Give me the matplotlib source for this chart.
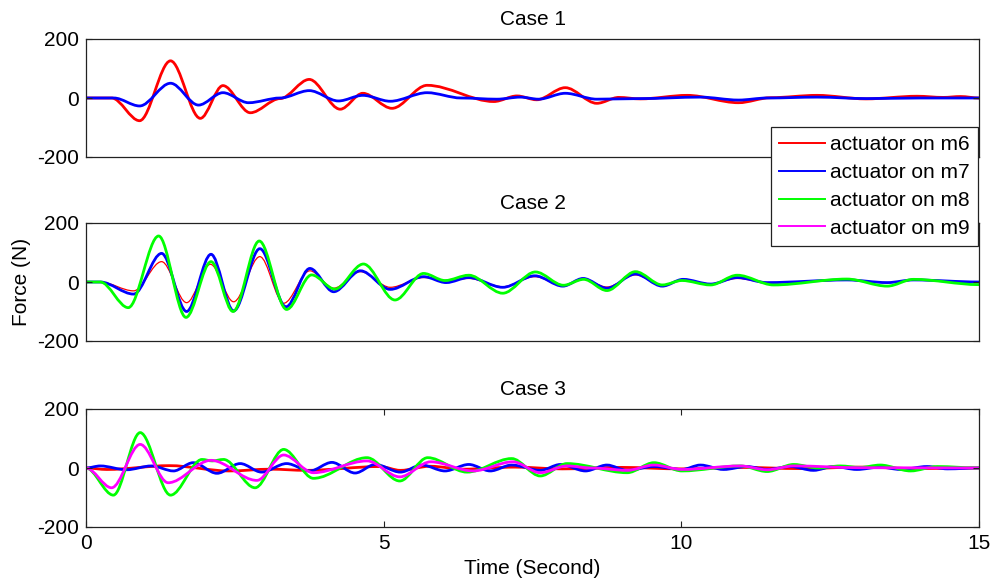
import matplotlib
matplotlib.use("Agg")
import matplotlib.pyplot as plt
from matplotlib.path import Path
from matplotlib.patches import PathPatch
from matplotlib.lines import Line2D

plt.rcParams['font.family'] = ['Liberation Sans', 'DejaVu Sans']
plt.rcParams['axes.unicode_minus'] = False

# values: times (s) and forces (N) at the turning points

# case 1
c1_red_t = [0, 0.43, 0.90, 1.42, 1.92, 2.30, 2.76, 3.26, 3.75, 4.27, 4.65, 5.14, 5.73, 6.85, 7.24, 7.57,
            8.05, 8.58, 8.95, 9.31, 10.1, 10.96, 11.5, 12.28, 13.1, 13.96, 14.4, 14.69, 15.0]
c1_red_v = [0, 0, -77, 126, -69, 42, -50, -2, 63, -38, 16, -35, 43, -12, 7, -6,
            35, -18, 2, -3, 9, -16, 1, 9, -3, 6, 2, 5, 0]
c1_blue_t = [0, 0.47, 0.90, 1.42, 1.89, 2.30, 2.73, 3.26, 3.75, 4.24, 4.65, 5.11, 5.73, 6.30, 6.90,
             7.30, 7.60, 8.05, 8.58, 9.31, 10.32, 10.96, 11.44, 12.28, 13.12, 14.0, 15.0]
c1_blue_v = [0, 0, -27, 50, -24, 18, -16, 0, 25, -10, 9, -11, 18, 0, -4,
             3, -4, 16, -4, -2, 3, -7, 0, 3, -2, 0, 0]

# case 2
c2_red_t = [0, 0.24, 0.80, 1.27, 1.69, 2.09, 2.48, 2.92, 3.32, 3.76, 4.16, 4.61, 5.11, 5.67, 6.05, 6.43,
            7.00, 7.54, 8.01, 8.35, 8.75, 9.23, 9.68, 10.03, 10.49, 10.94, 11.44, 12.78, 13.46, 13.90, 15.0]
c2_red_v = [0, 0, -30, 69, -70, 60, -67, 86, -72, 38, -21, 35, -18, 15, 5, 12,
            -16, 18, -12, 10, -17, 24, -12, 8, -6, 12, -2, 6, -2, 6, 0]
c2_blue_t = [0, 0.24, 0.80, 1.27, 1.69, 2.10, 2.48, 2.92, 3.36, 3.76, 4.16, 4.61, 5.11, 5.67, 6.05, 6.43,
             7.00, 7.54, 8.01, 8.35, 8.75, 9.23, 9.68, 10.03, 10.49, 10.94, 11.44, 12.78, 13.46, 13.90, 15.0]
c2_blue_v = [0, 0, -41, 97, -100, 94, -98, 113, -84, 46, -33, 38, -25, 18, -2, 15,
             -18, 21, -14, 12, -21, 27, -14, 9, -7, 15, -2, 7, -2, 7, 0]
c2_green_t = [0, 0.24, 0.71, 1.22, 1.68, 2.10, 2.47, 2.91, 3.37, 3.79, 4.18, 4.66, 5.19, 5.67, 6.03, 6.43,
              7.00, 7.55, 8.02, 8.36, 8.75, 9.23, 9.68, 10.01, 10.49, 10.94, 11.55, 12.78, 13.46, 13.90, 15.0]
c2_green_v = [0, 0, -87, 156, -120, 69, -100, 139, -93, 24, -24, 61, -61, 29, 5, 23,
              -38, 34, -11, 9, -29, 35, -10, 5, -10, 23, -10, 10, -14, 9, -9]

# case 3
c3_red_t = [0, 0.35, 1.4, 2.4, 3.1, 3.7, 4.94, 5.28, 5.78, 6.34, 7.2, 8.0, 9.0, 10.0, 11.0, 12.0, 13.0, 14.0, 15.0]
c3_red_v = [0, -5, 8, -10, -4, -8, 5, -8, 6, -4, 3, -3, 2, -3, 2, -2, 3, -2, 0]
c3_blue_t = [0, 0.24, 0.68, 1.10, 1.47, 1.80, 2.20, 2.59, 2.95, 3.37, 3.76, 4.13, 4.52, 4.86, 5.28, 5.64,
             6.03, 6.43, 6.79, 7.15, 7.63, 7.97, 8.39, 8.75, 9.09, 9.54, 10.01, 10.32, 10.71, 11.10, 11.44,
             11.83, 12.22, 12.56, 12.95, 13.34, 13.68, 14.13, 14.47, 15.0]
c3_blue_v = [0, 7, -6, 7, -10, 18, -18, 15, -14, 15, -10, 19, -17, 12, -14, 10,
             -10, 12, -10, 10, -8, 12, -10, 10, -8, 5, -5, 10, -5, 5, -5,
             5, -8, 5, -5, 3, -5, 5, -3, 0]
c3_green_t = [0, 0.46, 0.91, 1.42, 1.95, 2.12, 2.31, 2.84, 3.32, 3.82, 4.72, 5.27, 5.74, 6.40, 7.15, 7.63,
              8.08, 9.09, 9.54, 10.01, 10.99, 11.44, 11.89, 12.3, 12.67, 13.0, 13.34, 13.85, 14.3, 15.0]
c3_green_v = [0, -92, 120, -92, 29, 24, 29, -67, 63, -35, 35, -44, 35, -14, 32, -27,
              15, -16, 18, -10, 7, -12, 12, 0, 7, 2, 10, -10, 5, 0]
c3_mag_t = [0, 0.43, 0.91, 1.38, 2.10, 2.87, 3.32, 3.82, 4.72, 5.27, 5.79, 6.50, 7.17, 7.63, 8.08, 8.50,
            9.09, 9.54, 10.01, 10.99, 11.44, 11.89, 13.0, 15.0]
c3_mag_v = [0, -67, 80, -50, 26, -42, 44, -16, 24, -30, 21, -10, 21, -16, 7, 0,
            -8, 10, -5, 7, -6, 7, 1, 0]

labels = ['actuator on m6', 'actuator on m7', 'actuator on m8', 'actuator on m9']
colors = ['#ff0000', '#0000ff', '#00ff00', '#ff00ff']


def smooth_path(t, v):
    # bezier segments between turning points, flat tangent at each point
    verts = [(t[0], v[0])]
    codes = [Path.MOVETO]
    for i in range(1, len(t)):
        dt = (t[i] - t[i - 1]) / 3.0
        verts += [(t[i - 1] + dt, v[i - 1]), (t[i] - dt, v[i]), (t[i], v[i])]
        codes += [Path.CURVE4] * 3
    return Path(verts, codes)


def add_curve(ax, t, v, color, lw=2.0):
    ax.add_patch(PathPatch(smooth_path(t, v), fill=False, edgecolor=color, lw=lw,
                           joinstyle='round', capstyle='round'))


fig = plt.figure(figsize=(9.93, 5.83), dpi=100)
L, W = 86 / 993, (979 - 86) / 993
ax1 = fig.add_axes([L, 1 - 157 / 583, W, 118 / 583])
ax2 = fig.add_axes([L, 1 - 341 / 583, W, 118 / 583])
ax3 = fig.add_axes([L, 1 - 527 / 583, W, 118 / 583])

add_curve(ax1, c1_red_t, c1_red_v, colors[0])
add_curve(ax1, c1_blue_t, c1_blue_v, colors[1])

add_curve(ax2, c2_red_t, c2_red_v, colors[0], lw=0.9)
add_curve(ax2, c2_blue_t, c2_blue_v, colors[1])
add_curve(ax2, c2_green_t, c2_green_v, colors[2])

add_curve(ax3, c3_red_t, c3_red_v, colors[0])
add_curve(ax3, c3_blue_t, c3_blue_v, colors[1])
add_curve(ax3, c3_green_t, c3_green_v, colors[2])
add_curve(ax3, c3_mag_t, c3_mag_v, colors[3])

for ax, title in zip([ax1, ax2, ax3], ['Case 1', 'Case 2', 'Case 3']):
    ax.set_xlim(0, 15)
    ax.set_ylim(-200, 200)
    ax.set_yticks([-200, 0, 200])
    ax.tick_params(direction='in', length=4, top=True, right=True, labelsize=15, pad=5,
                   width=0.8, color='#222222')
    for sp in ax.spines.values():
        sp.set_linewidth(0.9)
        sp.set_color('#222222')
    ax.set_title(title, fontsize=15, pad=10)

ax1.set_xticks([])
ax2.set_xticks([])
ax3.set_xticks([0, 5, 10, 15])

fig.text(532 / 993, 1 - 568 / 583, 'Time (Second)', ha='center', va='center', fontsize=15)
fig.text(22 / 993, 1 - 282 / 583, 'Force (N)', ha='center', va='center', rotation=90, fontsize=15)

handles = [Line2D([], [], color=c, lw=1.4) for c in colors]
leg = fig.legend(handles, labels, loc='upper right', bbox_to_anchor=(978 / 993, 1 - 127 / 583),
                 fontsize=15, fancybox=False, framealpha=1, edgecolor='#222222',
                 handlelength=2.2, handletextpad=0.25, labelspacing=0.42, borderpad=0.4,
                 borderaxespad=0)
leg.get_frame().set_linewidth(0.9)

fig.savefig('out.png', dpi=100)
